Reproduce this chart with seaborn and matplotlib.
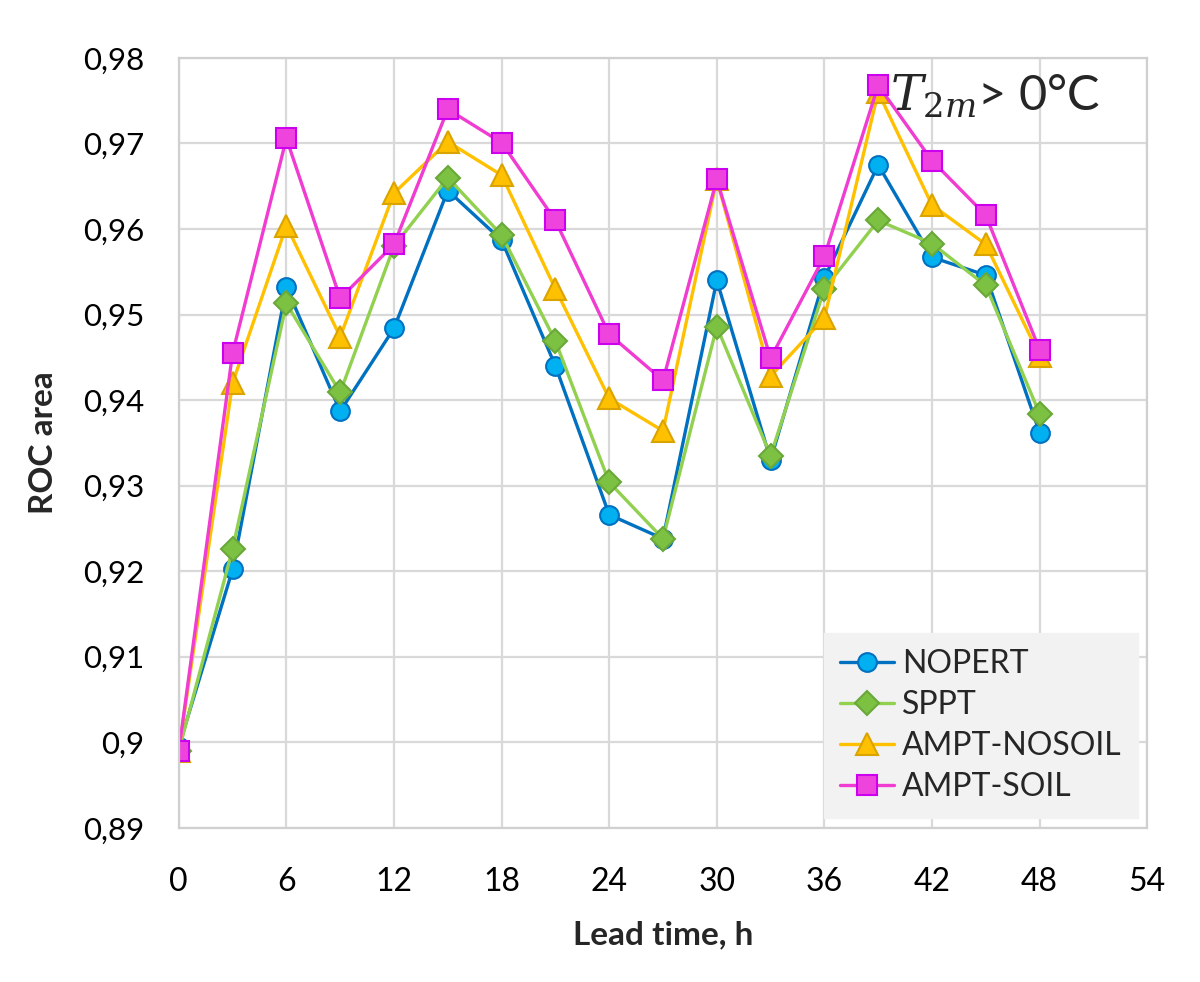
import seaborn as sns
import matplotlib.pyplot as plt
import pandas as pd
from matplotlib.ticker import FuncFormatter, MultipleLocator

lead_time = [0, 3, 6, 9, 12, 15, 18, 21, 24, 27, 30, 33, 36, 39, 42, 45, 48]

nopert = [0.8995, 0.9202, 0.9532, 0.9387, 0.9484, 0.9645, 0.9587, 0.9440, 0.9266,
          0.9238, 0.9540, 0.9330, 0.9543, 0.9675, 0.9567, 0.9546, 0.9362]
sppt = [0.8990, 0.9226, 0.9513, 0.9409, 0.9580, 0.9660, 0.9593, 0.9469, 0.9304,
        0.9238, 0.9486, 0.9335, 0.9530, 0.9610, 0.9583, 0.9534, 0.9384]
ampt_nosoil = [0.8990, 0.9420, 0.9604, 0.9474, 0.9642, 0.9702, 0.9663, 0.9530, 0.9402,
               0.9364, 0.9658, 0.9428, 0.9496, 0.9760, 0.9628, 0.9582, 0.9452]
ampt_soil = [0.8990, 0.9455, 0.9706, 0.9519, 0.9582, 0.9740, 0.9701, 0.9610, 0.9477,
             0.9423, 0.9658, 0.9449, 0.9568, 0.9768, 0.9680, 0.9616, 0.9459]

series_names = ['NOPERT', 'SPPT', 'AMPT-NOSOIL', 'AMPT-SOIL']
series_values = [nopert, sppt, ampt_nosoil, ampt_soil]

# line colour, marker face, marker edge, marker, size
styles = {
    'NOPERT': ('#0070C0', '#00B0F0', '#0070C0', 'o', 13.5),
    'SPPT': ('#92D050', '#7DC142', '#6AA83A', 'D', 12.5),
    'AMPT-NOSOIL': ('#FFC000', '#FFC000', '#D9A300', '^', 16),
    'AMPT-SOIL': ('#F03CD0', '#EE44DD', '#CC00EE', 's', 14),
}

sns.set_style('whitegrid')
plt.rcParams['font.family'] = ['Lato', 'DejaVu Sans']
plt.rcParams['mathtext.fontset'] = 'dejavuserif'

fig = plt.figure(figsize=(12, 9.82), dpi=100)
ax = fig.add_axes([0.149, 0.157, 0.807, 0.784])

for name, vals in zip(series_names, series_values):
    line, face, edge, mk, ms = styles[name]
    df = pd.DataFrame({'lead': lead_time, 'roc': vals})
    sns.lineplot(data=df, x='lead', y='roc', ax=ax, color=line, linewidth=2.4,
                 marker=mk, markersize=ms, markerfacecolor=face,
                 markeredgecolor=edge, markeredgewidth=1.5, label=name)

ax.set_xlim(0, 54)
ax.set_ylim(0.89, 0.98)
ax.xaxis.set_major_locator(MultipleLocator(6))
ax.yaxis.set_major_locator(MultipleLocator(0.01))
ax.yaxis.set_major_formatter(FuncFormatter(lambda v, p: ('%g' % round(v, 2)).replace('.', ',')))
ax.grid(True, color='#D9D9D9', linewidth=1.6)
for s in ax.spines.values():
    s.set_color('#D0D0D0')
    s.set_linewidth(1.6)
ax.tick_params(axis='x', labelsize=23, colors='black', length=0, pad=28)
ax.tick_params(axis='y', labelsize=22.5, colors='black', length=0, pad=25)

ax.set_xlabel('Lead time, h', fontsize=24, fontweight='bold', labelpad=17)
ax.set_ylabel('ROC area', fontsize=24, fontweight='bold', labelpad=18)

ax.text(0.951, 0.95, r'$T_{2m}$> 0°C', transform=ax.transAxes, ha='right', va='center',
        fontsize=35)

leg = ax.legend(loc='lower right', fontsize=23, frameon=True, fancybox=False,
                facecolor='#F2F2F2', edgecolor='#F2F2F2', framealpha=1,
                borderaxespad=0.3, handlelength=1.7, handletextpad=0.25,
                labelspacing=0.35, borderpad=0.5)

fig.savefig('out.png', dpi=100, facecolor='white')
